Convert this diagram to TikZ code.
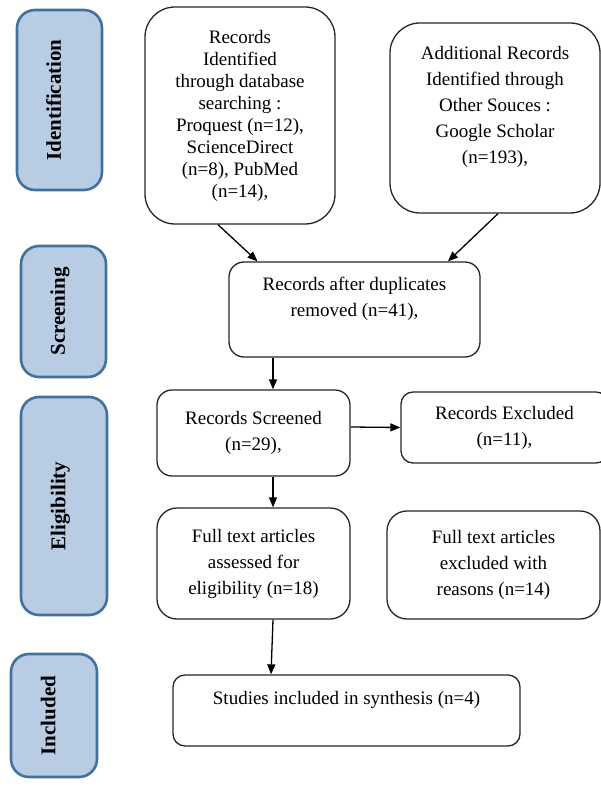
\documentclass[tikz,border=0pt]{standalone}
\usepackage{fontspec}
\setmainfont{Liberation Serif}
\usetikzlibrary{arrows.meta}
\definecolor{sidefill}{HTML}{B8CCE4}
\definecolor{sideline}{HTML}{41719C}

\begin{document}
\begin{tikzpicture}[x=1pt,y=-1pt,
 box/.style={draw=black!85,line width=1.3pt,align=center,inner sep=0pt,font=\fontsize{19}{26}\selectfont},
 side/.style={draw=sideline,fill=sidefill,line width=2.6pt,rounded corners=18pt,rotate=90,inner sep=0pt,text depth=12pt,font=\fontsize{21}{25}\selectfont\bfseries},
 arr/.style={line width=1.3pt,-{Triangle[length=10pt,width=8pt]}}]
 \useasboundingbox (0,0) rectangle (601,794); %page

 % phases on the left
 \node[side,minimum width=180pt,minimum height=85pt] (ident) at (59.5,100) {Identification};
 \node[side,minimum width=131pt,minimum height=85pt] (screen) at (63.5,311.5) {Screening};
 \node[side,minimum width=218pt,minimum height=86pt] (elig) at (64,506) {Eligibility};
 \node[side,minimum width=123pt,minimum height=86pt] (incl) at (54,715.5) {Included};

 % records
 \node[box,rounded corners=30pt,minimum width=190pt,minimum height=217pt,font=\fontsize{19}{22}\selectfont] (rec) at (240,115.5)
  {Records\\Identified\\through database\\searching :\\Proquest (n=12),\\ScienceDirect\\(n=8), PubMed\\(n=14),};
 \node[box,rounded corners=30pt,minimum width=210pt,minimum height=190pt] (add) at (495,118)
  {Additional Records\\Identified through\\Other Souces :\\Google Scholar\\(n=193),\\ \mbox{}};
 \node[box,rounded corners=15pt,minimum width=251pt,minimum height=95pt] (dup) at (354.5,309.5)
  {Records after duplicates\\removed (n=41),\\ \mbox{}};
 \node[box,rounded corners=15pt,minimum width=193pt,minimum height=86pt] (scr) at (253.5,433)
  {Records Screened\\(n=29),};
 \node[box,rounded corners=12pt,minimum width=207pt,minimum height=71pt] (exc) at (504.5,427.5)
  {Records Excluded\\(n=11),};
 \node[box,rounded corners=20pt,minimum width=193pt,minimum height=111pt] (full) at (253.5,563.5)
  {Full text articles\\assessed for\\eligibility (n=18)};
 \node[box,rounded corners=20pt,minimum width=213pt,minimum height=108pt] (fexc) at (493.5,565)
  {Full text articles\\excluded with\\reasons (n=14)};
 \node[box,rounded corners=12pt,minimum width=347pt,minimum height=71pt] (stud) at (346.5,710.5)
  {Studies included in synthesis (n=4)\\ \mbox{}};

 % arrows
 \draw[arr] ([xshift=-22pt]rec.south) -- ([xshift=-97pt]dup.north);
 \draw[arr] ([xshift=3pt]add.south) -- ([xshift=93.5pt]dup.north);
 \draw[arr] ([xshift=-81.5pt]dup.south) -- ([xshift=19.5pt]scr.north);
 \draw[arr] ([yshift=6pt]scr.east) -- (exc.west);
 \draw[arr] ([xshift=19.5pt]scr.south) -- ([xshift=19.5pt]full.north);
 \draw[arr] ([xshift=19.5pt]full.south) -- ([xshift=-75.5pt]stud.north);
\end{tikzpicture}
\end{document}
